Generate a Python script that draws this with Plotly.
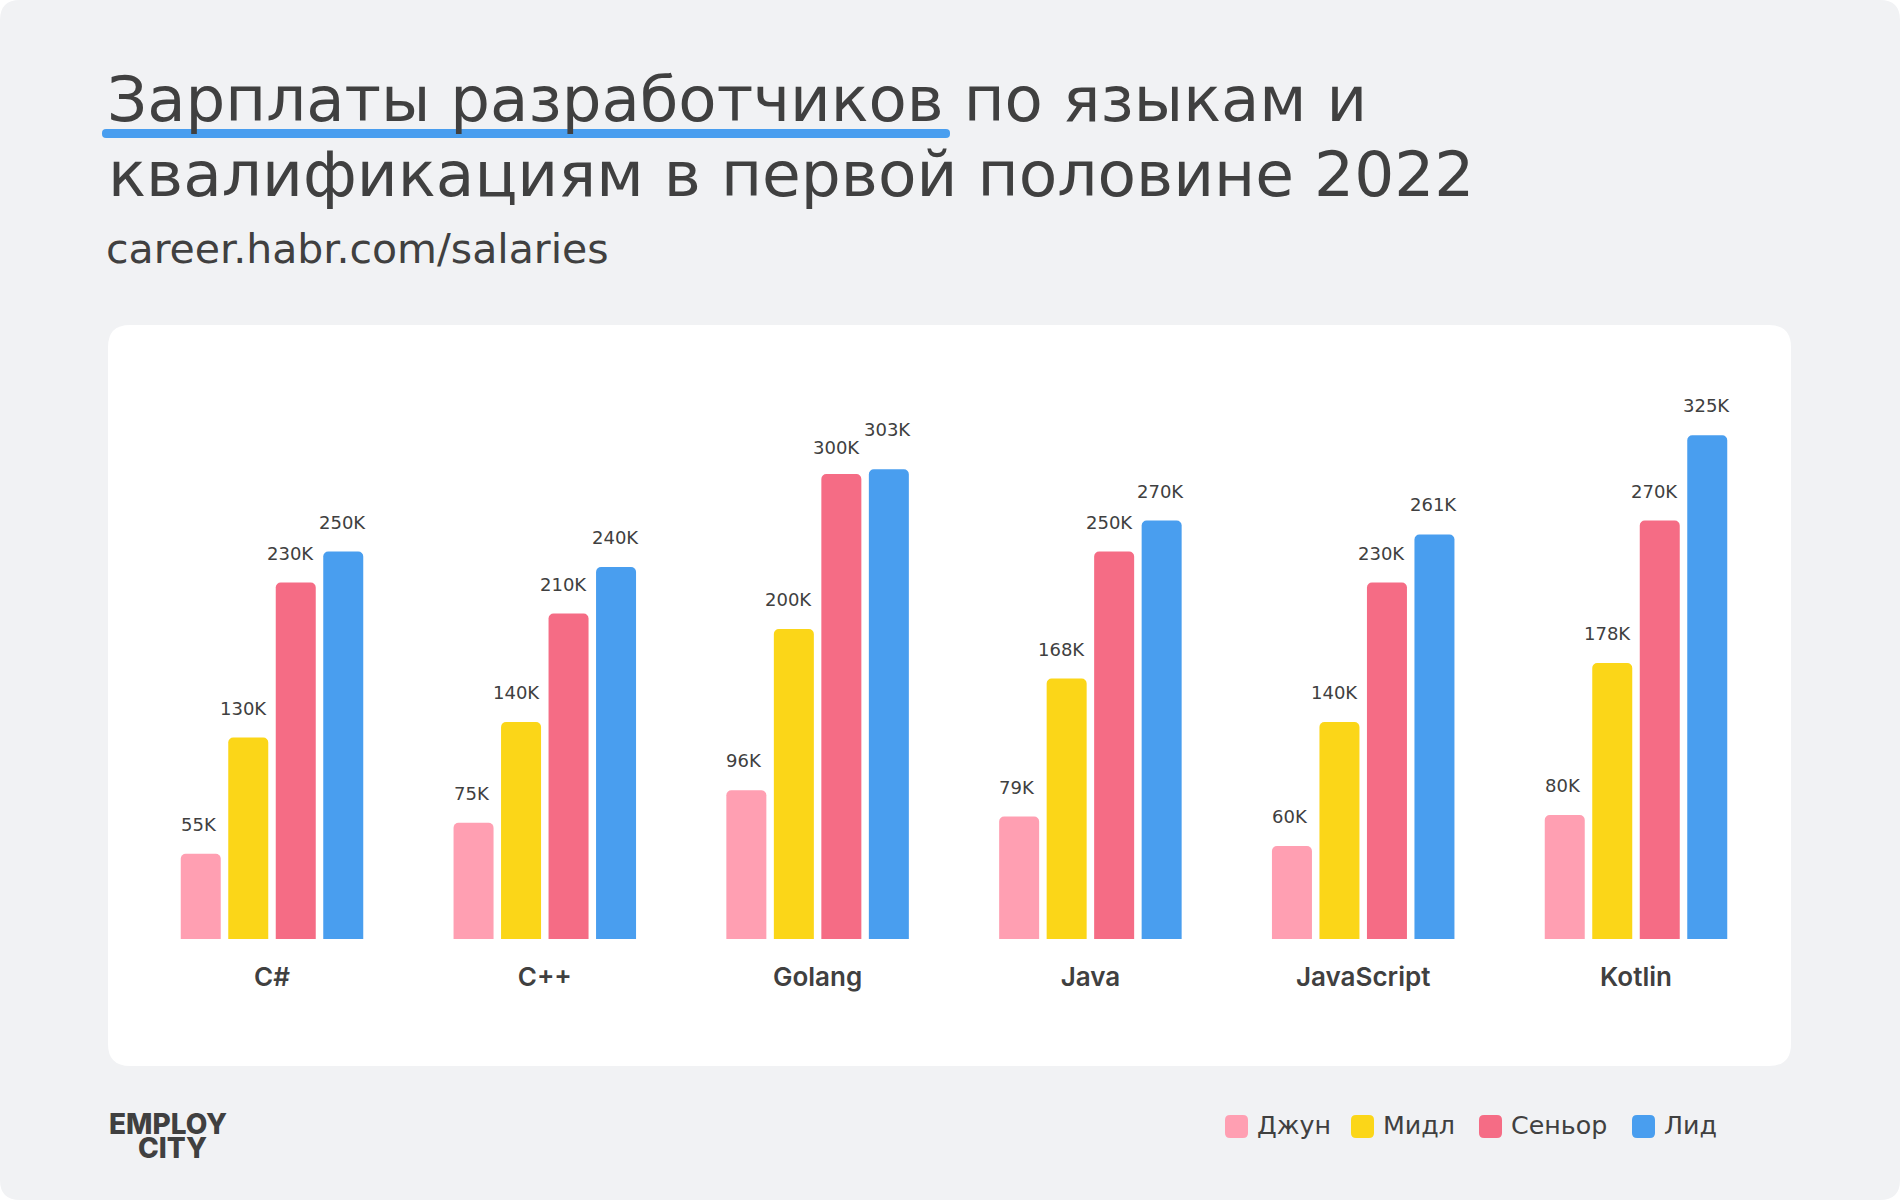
import plotly.graph_objects as go

W, H = 1900, 1200
FONT = 'DejaVu Sans'
BOLD_FONT = 'Inter'
TEXT = '#404040'

languages = ['C#', 'C++', 'Golang', 'Java', 'JavaScript', 'Kotlin']
grades = ['Джун', 'Мидл', 'Сеньор', 'Лид']
colors = ['#FF9FB2', '#FBD618', '#F56C85', '#499EEF']

junior = [55, 75, 96, 79, 60, 80]
middle = [130, 140, 200, 168, 140, 178]
senior = [230, 210, 300, 250, 230, 270]
lead = [250, 240, 303, 270, 261, 325]
salaries = [junior, middle, senior, lead]


def px(x):
    return x / W


def py(y):
    return 1 - y / H


def round_rect(x0, y0, x1, y1, r):
    # rounded rectangle in paper coords, given in page pixels
    fx = lambda v: f'{px(v):.5f}'
    fy = lambda v: f'{py(v):.5f}'
    return (f'M {fx(x0 + r)} {fy(y0)} L {fx(x1 - r)} {fy(y0)} '
            f'Q {fx(x1)} {fy(y0)} {fx(x1)} {fy(y0 + r)} L {fx(x1)} {fy(y1 - r)} '
            f'Q {fx(x1)} {fy(y1)} {fx(x1 - r)} {fy(y1)} L {fx(x0 + r)} {fy(y1)} '
            f'Q {fx(x0)} {fy(y1)} {fx(x0)} {fy(y1 - r)} L {fx(x0)} {fy(y0 + r)} '
            f'Q {fx(x0)} {fy(y0)} {fx(x0 + r)} {fy(y0)} Z')


def box(x0, y0, x1, y1, r, color):
    return dict(type='path', xref='paper', yref='paper', path=round_rect(x0, y0, x1, y1, r),
                fillcolor=color, line_width=0, layer='below')


def label(text, x, y, size, anchor='left', family=FONT, weight=400):
    # y is the vertical middle of the text in page pixels
    return dict(text=text, xref='paper', yref='paper', x=px(x), y=py(y), xanchor=anchor,
                yanchor='middle', showarrow=False, font=dict(family=family, size=size, color=TEXT, weight=weight))


fig = go.Figure()
for name, values, color in zip(grades, salaries, colors):
    fig.add_trace(go.Bar(x=languages, y=values, name=name, marker_color=color, marker_line_width=0))

shapes = [
    box(0, 0, W, H, 20, '#F1F2F4'),
    box(108, 325, 1791, 1066, 22, '#FFFFFF'),
    box(102, 129, 950, 138, 4, '#499EEF'),
]

annotations = [
    label('Зарплаты разработчиков по языкам и', 105, 99, 62.6),
    label('квалификациям в первой половине 2022', 106, 174, 63),
    label('career.habr.com/salaries', 104, 249, 41),
    label('EMPLOY', 168, 1124, 28, 'center', BOLD_FONT, 800),
    label('CITY', 172, 1148, 28, 'center', BOLD_FONT, 800),
]

# value labels sit a little left of their bars, 303K is lifted clear of 300K
label_shift = [-2, -5, -5, -1]
label_lift = {303: 10, 300: -3}
for j, values in enumerate(salaries):
    for i, v in enumerate(values):
        annotations.append(dict(text=f'{v}K', x=i + (j - 1.5) * 0.174, y=v, xref='x', yref='y',
                                xshift=label_shift[j], yshift=17 + label_lift.get(v, 0), yanchor='bottom',
                                showarrow=False, font=dict(family=FONT, size=18, color=TEXT)))

# hand built legend, swatches are rounded squares
legend_x = [1225, 1351, 1479, 1632]
for x, name, color in zip(legend_x, grades, colors):
    shapes.append(box(x, 1115, x + 23, 1138, 5, color))
    annotations.append(label(name, x + 30, 1125, 25.3))

fig.update_layout(
    width=W,
    height=H,
    margin=dict(l=0, r=0, t=0, b=0),
    paper_bgcolor='#FFFFFF',
    plot_bgcolor='rgba(0,0,0,0)',
    barmode='group',
    bargap=0.3035,
    bargroupgap=0.158,
    barcornerradius=5,
    showlegend=False,
    shapes=shapes,
    annotations=annotations,
    xaxis=dict(domain=[px(135.6), px(1772.4)], showgrid=False, zeroline=False, showline=False,
               ticks='outside', ticklen=15, tickcolor='rgba(0,0,0,0)',
               tickfont=dict(family=BOLD_FONT, size=26, color=TEXT, weight=600)),
    yaxis=dict(domain=[py(939), py(396.5)], range=[0, 350], visible=False),
)

fig.write_html('out.html', config=dict(displayModeBar=False), post_script="document.body.style.margin='0';")
